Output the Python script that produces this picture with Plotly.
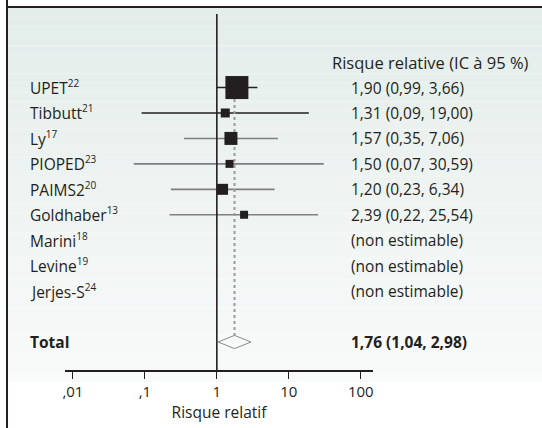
import plotly.graph_objects as go

# ---------------- data ----------------
studies = ["UPET", "Tibbutt", "Ly", "PIOPED", "PAIMS2", "Goldhaber", "Marini", "Levine", "Jerjes-S"]
refs = ["22", "21", "17", "23", "20", "13", "18", "19", "24"]
rr = [1.90, 1.31, 1.57, 1.50, 1.20, 2.39, None, None, None]
ci_low = [0.99, 0.09, 0.35, 0.07, 0.23, 0.22, None, None, None]
ci_high = [3.66, 19.00, 7.06, 30.59, 6.34, 25.54, None, None, None]
total_rr, total_low, total_high = 1.76, 1.04, 2.98
tick_vals = [0.01, 0.1, 1, 10, 100]
tick_text = [",01", ",1", "1", "10", "100"]

# ---------------- style ----------------
W, H = 542, 428
L, R, T, B = 65, 169, 14, 58
PW, PH = W - L - R, H - T - B
DARK = "#231f20"
GREY = "#7f7f7f"
FONT = "Open Sans"
FS = 15.5
box_px = [23, 9, 13, 8, 11, 8]
line_cols = [DARK, DARK, GREY, GREY, GREY, GREY]
Y_TOP, Y_BOT = -1.89, 12.1
rows = list(range(1, len(studies) + 1))
total_row = 11


def px2x(p):
    return (p - L) / PW


def px2y(p):
    return (H - B - p) / PH


def fmt(v):
    return f"{v:.2f}".replace(".", ",")


def sup(s):
    return f"<sup><span style='font-size:10px'>{s}</span></sup>"


fig = go.Figure()

# CI lines
for i in range(len(studies)):
    if rr[i] is None:
        continue
    fig.add_trace(go.Scatter(x=[ci_low[i], ci_high[i]], y=[rows[i], rows[i]], mode="lines",
                             line=dict(color=line_cols[i], width=1.6), hoverinfo="skip", showlegend=False))

# reference line at 1
fig.add_trace(go.Scatter(x=[1, 1], y=[Y_TOP, Y_BOT], mode="lines",
                         line=dict(color=DARK, width=1.6), hoverinfo="skip", showlegend=False))

# dotted pooled line
fig.add_trace(go.Scatter(x=[total_rr, total_rr], y=[1.45, total_row - 0.26], mode="lines",
                         line=dict(color="#9a9a9a", width=2, dash="dot"), hoverinfo="skip", showlegend=False))

# boxes
xs = [v for v in rr if v is not None]
ys = [rows[i] for i in range(len(xs))]
fig.add_trace(go.Scatter(x=xs, y=ys, mode="markers", opacity=1,
                         marker=dict(symbol="square", size=box_px, color=DARK, opacity=1, line=dict(width=0)),
                         hoverinfo="skip", showlegend=False))

# diamond
dh = 0.26
fig.add_trace(go.Scatter(x=[total_low, total_rr, total_high, total_rr, total_low],
                         y=[total_row, total_row - dh, total_row, total_row + dh, total_row],
                         mode="lines", line=dict(color="#8a8a8a", width=1),
                         hoverinfo="skip", showlegend=False))

ann = []
ann.append(dict(x=px2x(330), y=0, xref="paper", yref="y", text="Risque relative (IC à 95 %)",
                showarrow=False, xanchor="left", yanchor="middle", font=dict(size=16.5)))
for i, s in enumerate(studies):
    ann.append(dict(x=px2x(28), y=rows[i], xref="paper", yref="y",
                    text=f"{s}{sup(refs[i])}", showarrow=False, xanchor="left", yanchor="middle"))
    if rr[i] is None:
        t = "(non estimable)"
    else:
        t = f"{fmt(rr[i])} ({fmt(ci_low[i])}, {fmt(ci_high[i])})"
    ann.append(dict(x=px2x(349), y=rows[i], xref="paper", yref="y", text=t,
                    showarrow=False, xanchor="left", yanchor="middle"))
ann.append(dict(x=px2x(28), y=total_row, xref="paper", yref="y", text="<b>Total</b>",
                showarrow=False, xanchor="left", yanchor="middle"))
ann.append(dict(x=px2x(349), y=total_row, xref="paper", yref="y",
                text=f"<b>{fmt(total_rr)} ({fmt(total_low)}, {fmt(total_high)})</b>",
                showarrow=False, xanchor="left", yanchor="middle"))

# background gradient + borders
shapes = []
n = 40
top_c = (227, 237, 234)
bot_c = (249, 250, 250)
y0p, y1p = 8, 382
for k in range(n):
    f = k / (n - 1)
    c = tuple(round(top_c[j] + (bot_c[j] - top_c[j]) * f) for j in range(3))
    a = y0p + (y1p - y0p) * k / n
    b = y0p + (y1p - y0p) * (k + 1) / n
    shapes.append(dict(type="rect", xref="paper", yref="paper", x0=px2x(8), x1=px2x(W),
                       y0=px2y(b), y1=px2y(a), fillcolor="rgb(%d,%d,%d)" % c,
                       line=dict(width=0), layer="below"))
shapes.append(dict(type="line", xref="paper", yref="paper", x0=px2x(7), x1=px2x(7),
                   y0=px2y(0), y1=px2y(H), line=dict(color=DARK, width=2)))
shapes.append(dict(type="line", xref="paper", yref="paper", x0=px2x(7), x1=px2x(W),
                   y0=px2y(7), y1=px2y(7), line=dict(color=DARK, width=2)))

fig.update_layout(
    width=W, height=H,
    margin=dict(l=L, r=R, t=T, b=B),
    paper_bgcolor="white", plot_bgcolor="rgba(0,0,0,0)",
    font=dict(family=FONT, size=FS, color=DARK),
    annotations=ann, shapes=shapes, showlegend=False,
    xaxis=dict(type="log", range=[-2.11, 2.17], showgrid=False, zeroline=False,
               showline=True, linecolor=DARK, linewidth=1.6,
               ticks="outside", ticklen=7, tickwidth=1.3, tickcolor=DARK,
               tickvals=tick_vals, ticktext=tick_text, tickfont=dict(size=15, color=DARK),
               title=dict(text="Risque relatif", font=dict(size=15.5, color=DARK), standoff=1)),
    yaxis=dict(range=[Y_BOT, Y_TOP], visible=False, showgrid=False, zeroline=False),
)

fig.write_html("out.html", config={"displayModeBar": False},
               post_script="document.body.style.margin='0';document.body.style.overflow='hidden';")
